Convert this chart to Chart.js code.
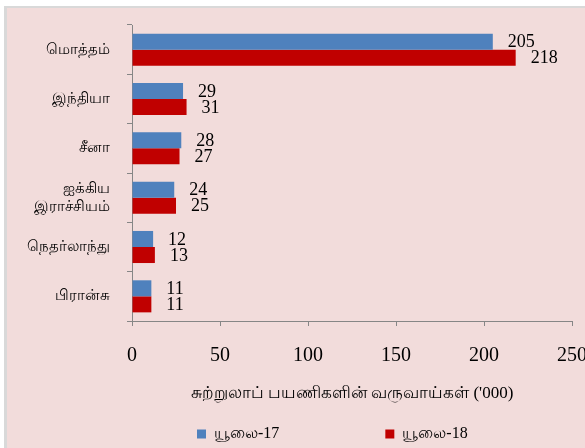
<!DOCTYPE html>
<html>
<head>
<meta charset="utf-8">
<script src="https://cdn.jsdelivr.net/npm/chart.js@4/dist/chart.umd.min.js"></script>
<style>
  html, body { margin: 0; padding: 0; background: #fff; overflow: hidden; }
  #frame {
    position: absolute; left: 4px; top: 6px; width: 581px; height: 442px;
    border-top: 2px solid #d9d9d9; border-left: 3px solid #d9d9d9;
    background: #f2dcdb; overflow: hidden;
  }
  #wrap { position: absolute; left: 0; top: 0; width: 600px; height: 444px; }
</style>
</head>
<body>
<div id="frame"><div id="wrap"><canvas id="chart"></canvas></div></div>
<script>
// Chart data
const categories = ['மொத்தம்', 'இந்தியா', 'சீனா', ['ஐக்கிய', 'இராச்சியம்'], 'நெதர்லாந்து', 'பிரான்சு'];
const seriesNames = ['யூலை-17', 'யூலை-18'];
const july17 = [205, 29, 28, 24, 12, 11];
const july18 = [218, 31, 27, 25, 13, 11];
const xTicks = [0, 50, 100, 150, 200, 250];
const xTitle = "சுற்றுலாப் பயணிகளின் வருவாய்கள் ('000)";

const serif = '"Liberation Serif", "Times New Roman", serif';
const axisGray = '#868686';

// value labels to the right of each bar
const valueLabels = {
  id: 'valueLabels',
  afterDatasetsDraw(chart) {
    const ctx = chart.ctx;
    ctx.save();
    ctx.font = '18px ' + serif;
    ctx.fillStyle = '#000';
    ctx.textAlign = 'left';
    ctx.textBaseline = 'middle';
    chart.data.datasets.forEach((ds, i) => {
      chart.getDatasetMeta(i).data.forEach((bar, j) => {
        ctx.fillText(ds.data[j], bar.x + 15, bar.y + 1);
      });
    });
    ctx.restore();
  }
};

// put the legend row where the original has it
const legendSpot = {
  id: 'legendSpot',
  afterLayout(chart) {
    chart.legend.lineWidths[0] = chart.legend.right - 190;
  }
};

new Chart(document.getElementById('chart'), {
  type: 'bar',
  data: {
    labels: categories,
    datasets: [
      { label: seriesNames[0], data: july17, backgroundColor: '#4f81bd' },
      { label: seriesNames[1], data: july18, backgroundColor: '#c00000' }
    ]
  },
  options: {
    indexAxis: 'y',
    responsive: true,
    maintainAspectRatio: false,
    animation: false,
    datasets: { bar: { categoryPercentage: 0.65, barPercentage: 1.0 } },
    layout: { padding: { top: 17, right: 35, bottom: 0, left: 0 } },
    scales: {
      x: {
        min: 0, max: 250,
        afterBuildTicks(scale) { scale.ticks = xTicks.map(v => ({ value: v })); },
        afterFit(scale) { scale.height = 99; },
        grid: { drawOnChartArea: false, drawTicks: true, tickLength: 5, color: axisGray },
        border: { color: axisGray, width: 1 },
        ticks: { font: { family: serif, size: 20 }, color: '#000', padding: 18, maxRotation: 0 },
        title: {
          display: true, text: xTitle, color: '#000',
          font: { family: serif, size: 17 }, padding: { top: 0, bottom: 16 }
        }
      },
      y: {
        afterFit(scale) {
          scale.width = 125;
          scale.paddingTop = 0;
          scale.paddingBottom = 0;
        },
        grid: { drawOnChartArea: false, drawTicks: true, tickLength: 5, color: axisGray, offset: true },
        border: { color: axisGray, width: 1 },
        ticks: { font: { family: serif, size: 15 }, color: '#000', padding: 17 }
      }
    },
    plugins: {
      tooltip: { enabled: false },
      legend: {
        position: 'bottom',
        align: 'end',
        labels: {
          boxWidth: 9, boxHeight: 9, padding: 6, color: '#000',
          font: { family: serif, size: 16 },
          generateLabels(chart) {
            const items = Chart.defaults.plugins.legend.labels.generateLabels(chart);
            const ctx = chart.ctx;
            ctx.save();
            ctx.font = '16px ' + serif;
            let t = items[0].text;
            while (ctx.measureText(t).width < 185 - 9 - 8 - 6) t += ' ';
            items[0].text = t;
            ctx.restore();
            return items;
          }
        }
      }
    }
  },
  plugins: [valueLabels, legendSpot]
});
</script>
</body>
</html>
